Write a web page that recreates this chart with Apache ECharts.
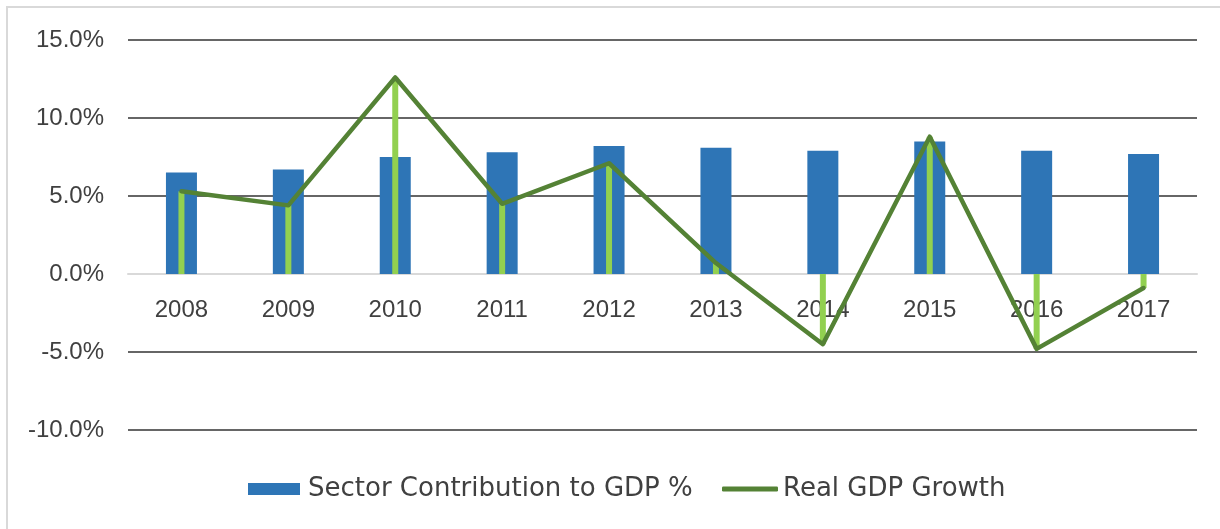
<!DOCTYPE html>
<html>
<head>
<meta charset="utf-8">
<script src="https://cdn.jsdelivr.net/npm/echarts@6/dist/echarts.min.js"></script>
<style>
html,body{margin:0;padding:0;background:#fff;}
#chart{width:1220px;height:529px;}
</style>
</head>
<body>
<div id="chart"></div>
<script>
const categories = ['2008','2009','2010','2011','2012','2013','2014','2015','2016','2017'];
const sectorContribution = [6.5, 6.7, 7.5, 7.8, 8.2, 8.1, 7.9, 8.5, 7.9, 7.7];
const realGdpGrowth = [5.3, 4.4, 12.6, 4.5, 7.1, 0.7, -4.5, 8.8, -4.8, -0.9];
const yTicks = { min: -10, max: 15, interval: 5 };

const AXIS_FONT = 'Liberation Sans';
const LEGEND_FONT = 'DejaVu Sans';
const TEXT = '#404040';
const GRID_TOP = 40, GRID_BOTTOM = 99, H = 529;
const plotH = H - GRID_TOP - GRID_BOTTOM;
// distance from the grid bottom to the zero line, derived from the axis range
const zeroOffset = plotH * (0 - yTicks.min) / (yTicks.max - yTicks.min);

const chart = echarts.init(document.getElementById('chart'), null, {renderer: 'canvas'});
chart.setOption({
  animation: false,
  backgroundColor: '#fff',
  graphic: [{
    type: 'rect', silent: true, z: -10,
    shape: {x: 7, y: 7, width: 1400, height: 700},
    style: {fill: 'none', stroke: '#d9d9d9', lineWidth: 2}
  }],
  grid: {left: 128, right: 23, top: GRID_TOP, bottom: GRID_BOTTOM, containLabel: false},
  legend: [{
    data: ['Sector Contribution to GDP %'],
    left: 248, top: 476, padding: 0,
    icon: 'rect', itemWidth: 52, itemHeight: 12,
    textStyle: {fontFamily: LEGEND_FONT, fontSize: 26, color: TEXT, padding: [0,0,0,3]}
  },{
    data: ['Real GDP Growth'],
    left: 722, top: 476, padding: 0,
    icon: 'roundRect', itemWidth: 56, itemHeight: 5,
    textStyle: {fontFamily: LEGEND_FONT, fontSize: 26, color: TEXT}
  }],
  xAxis: [{
    type: 'category', data: categories,
    offset: -zeroOffset,
    axisLine: {onZero: false, lineStyle: {color: '#d9d9d9', width: 2}},
    axisTick: {show: false},
    axisLabel: {fontFamily: AXIS_FONT, fontSize: 24, color: TEXT, margin: 24}
  },{
    type: 'category', data: categories, show: false
  }],
  yAxis: {
    type: 'value', min: yTicks.min, max: yTicks.max, interval: yTicks.interval,
    axisLine: {show: false}, axisTick: {show: false},
    splitLine: {lineStyle: {color: '#666666', width: 2}},
    axisLabel: {fontFamily: AXIS_FONT, fontSize: 24, color: TEXT, margin: 24,
      formatter: v => v.toFixed(1) + '%'}
  },
  series: [{
    name: 'Sector Contribution to GDP %', type: 'bar', data: sectorContribution,
    barWidth: 31, itemStyle: {color: '#2E75B6'}, xAxisIndex: 0
  },{
    name: 'Real GDP Growth Drop', type: 'bar', data: realGdpGrowth,
    barWidth: 6, itemStyle: {color: '#92D050'}, xAxisIndex: 1
  },{
    name: 'Real GDP Growth', type: 'line', data: realGdpGrowth,
    symbol: 'none', xAxisIndex: 0,
    itemStyle: {color: '#548235'},
    lineStyle: {color: '#548235', width: 4.5, cap: 'round', join: 'round'}
  }]
});
</script>
</body>
</html>
